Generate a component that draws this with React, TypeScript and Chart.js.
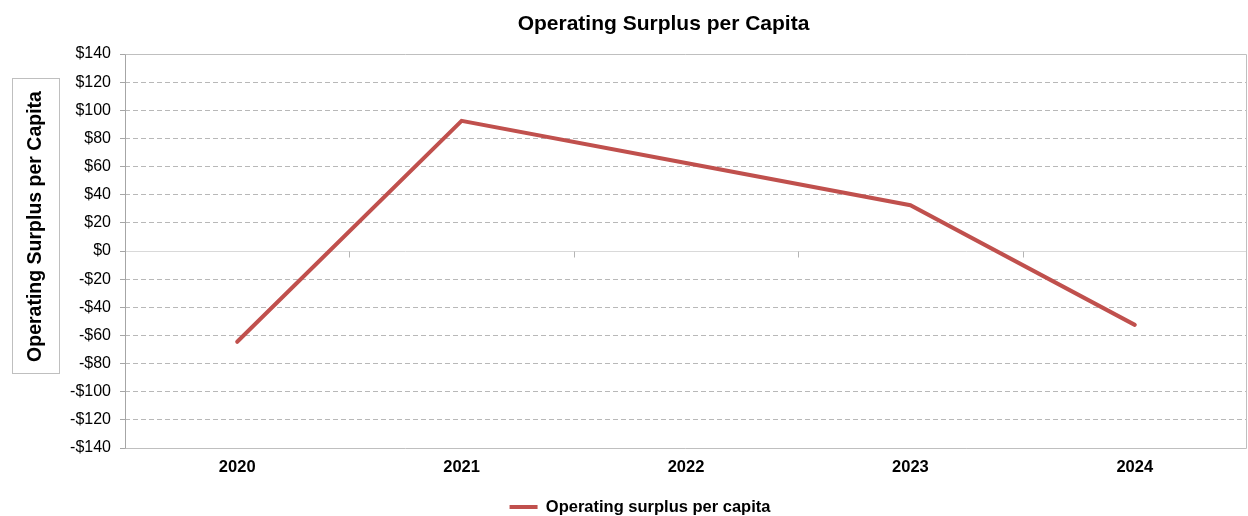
import { useEffect, useRef } from 'react';
import { Chart, registerables } from 'chart.js';

Chart.register(...registerables);

// ---- Data ----
const categories = ['2020', '2021', '2022', '2023', '2024'];
const surplusPerCapita = [-64.5, 92.5, 62.5, 32.5, -52.5];
const yMin = -140;
const yMax = 140;
const yStep = 20;
const chartTitle = 'Operating Surplus per Capita';
const yAxisTitle = 'Operating Surplus per Capita';
const seriesLabel = 'Operating surplus per capita';

const FONT = "'Liberation Sans', Arial, Helvetica, sans-serif";
const LINE_COLOR = '#C0504D';

const fmtMoney = (v: number) => (v < 0 ? '-$' + Math.abs(v) : '$' + v);

const layoutTweak = {
  id: 'layoutTweak',
  afterLayout(chart: any) {
    const t = chart.titleBlock;
    if (t) {
      const dx = 663.5 - (t.left + t.right) / 2;
      t.left += dx;
      t.right += dx;
    }
    const lg = chart.legend;
    if (lg) {
      const p = 0;
      const fs = 16.5;
      const dy = 507 - fs / 2 - p - lg.top;
      lg.top += dy;
      lg.bottom += dy;
      const dx = 640 - (lg.left + lg.right) / 2;
      lg.left += dx;
      lg.right += dx;
    }
  },
};

const frame = {
  id: 'frame',
  beforeDatasetsDraw(chart: any) {
    const { ctx, chartArea, scales } = chart;
    const { left, right, top, bottom } = chartArea;
    const y0 = Math.round(scales.y.getPixelForValue(0)) + 0.5;
    ctx.save();
    ctx.lineWidth = 1;
    // category boundary ticks on the zero line
    ctx.strokeStyle = '#B4B4B4';
    const n = categories.length;
    const w = (right - left) / n;
    for (let i = 1; i < n; i++) {
      const x = Math.round(left + i * w) + 0.5;
      ctx.beginPath();
      ctx.moveTo(x, y0);
      ctx.lineTo(x, y0 + 6);
      ctx.stroke();
    }
    // plot frame (top, right, bottom)
    ctx.strokeStyle = '#BFBFBF';
    const t = Math.round(top) + 0.5;
    const b = Math.round(bottom) + 0.5;
    const r = Math.round(right) - 0.5;
    ctx.beginPath();
    ctx.moveTo(left, t);
    ctx.lineTo(r, t);
    ctx.lineTo(r, b);
    ctx.lineTo(left, b);
    ctx.stroke();
    // left axis
    ctx.strokeStyle = '#A6A6A6';
    const l = Math.round(left) + 0.5;
    ctx.beginPath();
    ctx.moveTo(l, t);
    ctx.lineTo(l, b);
    ctx.stroke();
    ctx.restore();
  },
};

const yTitleBox = {
  id: 'yTitleBox',
  afterDraw(chart: any) {
    const { ctx } = chart;
    ctx.save();
    ctx.fillStyle = '#FFFFFF';
    ctx.fillRect(12.5, 78.5, 47, 295);
    ctx.strokeStyle = '#BFBFBF';
    ctx.lineWidth = 1;
    ctx.strokeRect(12.5, 78.5, 47, 295);
    ctx.translate(36, 226.5);
    ctx.rotate(-Math.PI / 2);
    ctx.font = `bold 19.5px ${FONT}`;
    ctx.textAlign = 'center';
    ctx.textBaseline = 'middle';
    ctx.fillStyle = '#000000';
    ctx.fillText(yAxisTitle, 0, 0);
    ctx.restore();
  },
};

export default function App() {
  const canvasRef = useRef<HTMLCanvasElement | null>(null);

  useEffect(() => {
    document.body.style.margin = '0';
    const canvas = canvasRef.current;
    if (!canvas) return;
    Chart.defaults.font.family = FONT;

    const chart = new Chart(canvas, {
      type: 'line',
      data: {
        labels: categories,
        datasets: [
          {
            label: seriesLabel,
            data: surplusPerCapita,
            borderColor: LINE_COLOR,
            backgroundColor: LINE_COLOR,
            borderWidth: 4,
            borderCapStyle: 'round',
            pointRadius: 0,
            pointHoverRadius: 0,
            pointStyle: 'line',
            tension: 0,
            fill: false,
          },
        ],
      },
      options: {
        responsive: false,
        animation: false,
        devicePixelRatio: 1,
        layout: { padding: { left: 0, right: 1, top: 0, bottom: 0 } },
        plugins: {
          title: {
            display: true,
            text: chartTitle,
            color: '#000000',
            font: { size: 21, weight: 'bold', family: FONT },
            padding: { top: 11.9, bottom: 16.9 },
          },
          legend: {
            display: true,
            position: 'bottom',
            labels: {
              usePointStyle: true,
              pointStyle: 'line',
              pointStyleWidth: 28,
              padding: 0,
              color: '#000000',
              font: { size: 16.5, weight: 'bold', family: FONT },
            },
          },
          tooltip: { enabled: false },
        },
        scales: {
          x: {
            type: 'category',
            offset: true,
            grid: { display: false, drawTicks: false },
            border: { display: false },
            ticks: {
              color: '#000000',
              padding: 10,
              font: { size: 16.5, weight: 'bold', family: FONT },
              maxRotation: 0,
            },
            afterFit: (scale: any) => {
              scale.height = 41.5;
            },
          },
          y: {
            min: yMin,
            max: yMax,
            border: {
              display: false,
              dash: (ctx: any) => (ctx.tick && ctx.tick.value === 0 ? [] : [5, 3]),
            },
            grid: {
              color: (ctx: any) => {
                const v = ctx.tick ? ctx.tick.value : null;
                if (v === yMin || v === yMax) return 'rgba(0,0,0,0)';
                if (v === 0) return '#D9D9D9';
                return '#B8B8B8';
              },
              lineWidth: 1,
              drawTicks: true,
              tickLength: 5,
              tickColor: '#A6A6A6',
              tickBorderDash: [],
            },
            ticks: {
              stepSize: yStep,
              color: '#000000',
              padding: 9,
              font: { size: 16, family: FONT },
              callback: (v: any) => fmtMoney(Number(v)),
            },
            afterFit: (scale: any) => {
              scale.width = 125;
            },
          },
        },
      },
      plugins: [layoutTweak, frame, yTitleBox],
    } as any);

    return () => {
      chart.destroy();
    };
  }, []);

  return (
    <div style={{ position: 'relative', width: 1248, height: 516 }}>
      <canvas ref={canvasRef} width={1248} height={516} style={{ display: 'block' }} />
    </div>
  );
}
